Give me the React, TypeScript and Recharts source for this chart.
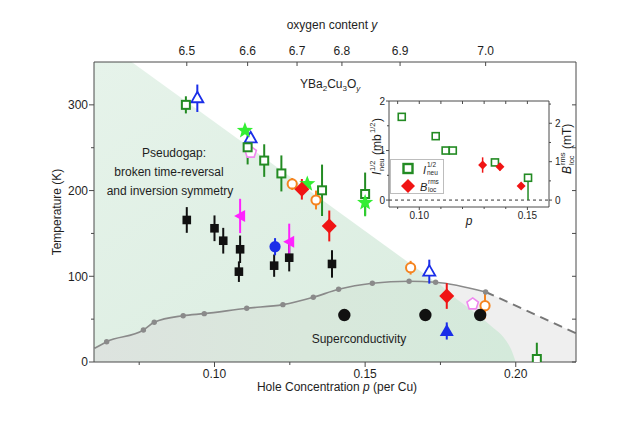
import React from "react";
import {
  Area,
  ComposedChart,
  ErrorBar,
  Line,
  ReferenceArea,
  ReferenceLine,
  Scatter,
  XAxis,
  YAxis,
} from "recharts";

const FONT = "'Liberation Sans', Arial, Helvetica, sans-serif";
const INK = "#1e1e1e";
const FRAME = "#4a4a4a";

// main panel axes
const pTicks = [0.075, 0.1, 0.125, 0.15, 0.175, 0.2];
const pLabels = ["", "0.10", "", "0.15", "", "0.20"];
const tTicks = [0, 50, 100, 150, 200, 250, 300];
const tLabels = ["0", "", "100", "", "200", "", "300"];
const oxyP = [0.0908, 0.111, 0.1274, 0.1423, 0.1616, 0.19];
const oxyLabels = ["6.5", "6.6", "6.7", "6.8", "6.9", "7.0"];

// Tc dome: solid part with dots, then dashed continuation
const tcP = [0.0602, 0.0642, 0.0764, 0.08, 0.0896, 0.0966, 0.1107, 0.1227, 0.1328, 0.1412, 0.1524, 0.1646, 0.1734, 0.19];
const tcT = [16, 23.7, 37.3, 46.3, 54, 56.4, 62.7, 66.9, 75.5, 84.8, 91.8, 94.2, 93, 81.7];
const tcDashP = [0.19, 0.22];
const tcDashT = [81.7, 33.5];

// shaded regions: pseudogap wedge and right edge of the superconducting dome fill
const pgEdgeP = [0.06, 0.0725, 0.21];
const pgEdgeT = [350, 350, 0];
const scEdgeP = [0.178, 0.1825, 0.1873, 0.1925, 0.1958, 0.1988, 0.2];
const scEdgeT = [80, 68, 55, 40, 29.5, 12, 0];

// data points (p, T, error)
const greenSqP = [0.0905, 0.111, 0.1165, 0.1222, 0.1357, 0.15, 0.207];
const greenSqT = [300, 250.5, 235, 220, 200.3, 196, 3.5];
const greenSqE: (number | number[])[] = [10, 20, 19, 21, 30, 25, [3.5, 19]];

const starP = [0.1101, 0.1308, 0.15];
const starT = [270, 207.7, 186];
const starE = [0, 0, 16];

const blueOpenP = [0.0943, 0.112, 0.1713];
const blueOpenT = [307.7, 261, 105.4];
const blueOpenE = [16, 0, 14];

const pentP = [0.112, 0.1857];
const pentT = [244.7, 67.7];

const orangeP = [0.1258, 0.1337, 0.1651, 0.1898];
const orangeT = [207.7, 189, 110, 65.7];
const orangeE = [7, 11, 8, 15];

const redP = [0.129, 0.1381, 0.1771];
const redT = [201.5, 158.7, 77];
const redE = [12, 18, 15];

const blackSqP = [0.0908, 0.1, 0.1029, 0.1085, 0.1081, 0.1198, 0.1248, 0.139];
const blackSqT = [165.7, 156, 141.5, 131.5, 105.4, 112.4, 121.7, 114.4];
const blackSqE = [15, 15, 15, 16, 12, 13, 16, 16];

const magP = [0.1085, 0.1248];
const magT = [170.4, 140.4];
const magE = [20, 21];

const blueDotP = [0.1201];
const blueDotT = [134.5];
const blueDotE = [10];

const blackDotP = [0.1431, 0.17, 0.1882];
const blackDotT = [54.8, 54.8, 54.8];

const blueFillP = [0.1771];
const blueFillT = [36.2];
const blueFillE = [10];

// inset
const inPTicks = [0.09, 0.1, 0.11, 0.12, 0.13, 0.14, 0.15];
const inPLabels = ["", "0.10", "", "", "", "", "0.15"];
const inLTicks = [0, 0.5, 1, 1.5, 2];
const inLLabels = ["0", "", "1", "", "2"];
const inRTicks = [0, 0.5, 1, 1.5, 2, 2.5];
const inRLabels = ["0", "", "1", "", "2", ""];
const neuP = [0.0919, 0.1076, 0.1122, 0.1155, 0.135, 0.1503];
const neuV = [1.68, 1.29, 1.0, 1.0, 0.76, 0.45];
const neuE: (number | number[])[] = [0, 0, 0, 0, 0, [0.45, 0]];
const bLocP = [0.1293, 0.1373, 0.1471];
const bLocV = [0.913, 0.868, 0.365];
const bLocE = [0.2, 0.1, 0.06];

type Row = { p: number; t: number; e: number | number[] };
const rows = (p: number[], t: number[], e?: (number | number[])[]): Row[] =>
  p.map((x, i) => ({ p: x, t: t[i], e: e ? e[i] : 0 }));

const pgRows = rows(pgEdgeP, pgEdgeT);
const domeRows = rows([...tcP.slice(0, 13), ...scEdgeP], [...tcT.slice(0, 13), ...scEdgeT]);
const grayRows = rows([...tcP.slice(11), ...tcDashP.slice(1)], [...tcT.slice(11), ...tcDashT.slice(1)]);

const labelOf = (ticks: number[], labels: string[]) => (v: number) => {
  let best = 0;
  ticks.forEach((tk, i) => {
    if (Math.abs(tk - v) < Math.abs(ticks[best] - v)) best = i;
  });
  return labels[best];
};

type Side = "left" | "right" | "top" | "bottom";
// dir 1 = outward, -1 = inward
function axisTick(side: Side, dir: number, major: number, minor: number, gap: number, size: number, label?: (v: number) => string) {
  return (props: any) => {
    const { x, y, payload } = props;
    const txt = label ? label(payload.value) : "";
    const len = txt ? major : minor;
    const style = { fill: INK, stroke: "none", fontSize: size, fontFamily: FONT };
    if (side === "left")
      return (
        <g>
          <line x1={x} y1={y} x2={x - dir * len} y2={y} stroke={FRAME} />
          {txt && <text x={x - gap} y={y} dy="0.36em" textAnchor="end" style={style}>{txt}</text>}
        </g>
      );
    if (side === "right")
      return (
        <g>
          <line x1={x} y1={y} x2={x + dir * len} y2={y} stroke={FRAME} />
          {txt && <text x={x + gap} y={y} dy="0.36em" textAnchor="start" style={style}>{txt}</text>}
        </g>
      );
    if (side === "top")
      return (
        <g>
          <line x1={x} y1={y} x2={x} y2={y - dir * len} stroke={FRAME} />
          {txt && <text x={x} y={y - gap} textAnchor="middle" style={style}>{txt}</text>}
        </g>
      );
    return (
      <g>
        <line x1={x} y1={y} x2={x} y2={y + dir * len} stroke={FRAME} />
        {txt && <text x={x} y={y + gap} textAnchor="middle" style={style}>{txt}</text>}
      </g>
    );
  };
}

// marker shapes
const starPts = (cx: number, cy: number, R: number, r: number) => {
  const pts: string[] = [];
  for (let i = 0; i < 10; i++) {
    const a = -Math.PI / 2 + (i * Math.PI) / 5;
    const rad = i % 2 === 0 ? R : r;
    pts.push(`${cx + rad * Math.cos(a)},${cy + rad * Math.sin(a)}`);
  }
  return pts.join(" ");
};
const pentPts = (cx: number, cy: number, R: number) => {
  const pts: string[] = [];
  for (let i = 0; i < 5; i++) {
    const a = -Math.PI / 2 + (i * 2 * Math.PI) / 5;
    pts.push(`${cx + R * Math.cos(a)},${cy + R * Math.sin(a)}`);
  }
  return pts.join(" ");
};

const GREEN = "#238b23";
const STAR = "#33ee33";
const BLUE = "#1a2ee8";
const RED = "#f01414";
const ORANGE = "#f5841f";
const MAGENTA = "#ff22ff";
const PINK = "#ef88ef";
const BLACK = "#111";
const GRAY = "#8a8a8a";

const openSquare = (color: string, s: number, w: number) => (p: any) => (
  <rect x={p.cx - s / 2} y={p.cy - s / 2} width={s} height={s} fill="#fff" stroke={color} strokeWidth={w} />
);
const diamond = (color: string, h: number) => (p: any) => (
  <polygon points={`${p.cx},${p.cy - h} ${p.cx + h},${p.cy} ${p.cx},${p.cy + h} ${p.cx - h},${p.cy}`} fill={color} />
);
const starShape = (p: any) => <polygon points={starPts(p.cx, p.cy, 8.5, 3.6)} fill={STAR} />;
const blueOpenTri = (p: any) => (
  <polygon points={`${p.cx},${p.cy - 6.5} ${p.cx + 6},${p.cy + 4} ${p.cx - 6},${p.cy + 4}`} fill="#fff" stroke={BLUE} strokeWidth={1.8} />
);
const pentShape = (p: any) => <polygon points={pentPts(p.cx, p.cy, 6)} fill="#fff" stroke={PINK} strokeWidth={1.6} />;
const orangeCircle = (p: any) => <circle cx={p.cx} cy={p.cy} r={4.6} fill="#fff" stroke={ORANGE} strokeWidth={2} />;
const blackSquare = (p: any) => <rect x={p.cx - 4.3} y={p.cy - 4.3} width={8.6} height={8.6} fill={BLACK} />;
const magTri = (p: any) => (
  <polygon points={`${p.cx - 6},${p.cy} ${p.cx + 5},${p.cy - 6} ${p.cx + 5},${p.cy + 6}`} fill={MAGENTA} />
);
const blueDot = (p: any) => <circle cx={p.cx} cy={p.cy} r={5.6} fill={BLUE} />;
const blackDot = (p: any) => <circle cx={p.cx} cy={p.cy} r={6.2} fill={BLACK} />;
const blueFillTri = (p: any) => (
  <polygon points={`${p.cx},${p.cy - 7} ${p.cx + 7},${p.cy + 5} ${p.cx - 7},${p.cy + 5}`} fill={BLUE} />
);
const tcDot = (p: any) =>
  p.index === 0 ? <g key={`d${p.index}`} /> : <circle key={`d${p.index}`} cx={p.cx} cy={p.cy} r={2.7} fill={GRAY} />;

function MainChart() {
  const series = (data: Row[], shape: any, color: string, key: string) => (
    <Scatter key={key} xAxisId="b" yAxisId="l" data={data} dataKey="t" shape={shape} isAnimationActive={false}>
      <ErrorBar dataKey="e" direction="y" width={0} stroke={color} strokeWidth={2} />
    </Scatter>
  );
  return (
    <ComposedChart width={638} height={424} margin={{ top: 32, right: 61, bottom: 22, left: 54 }}>
      <defs>
        <linearGradient id="pgFill" x1="0" y1="0" x2="1" y2="1">
          <stop offset="0" stopColor="#e6f3ea" />
          <stop offset="1" stopColor="#d9ecdf" />
        </linearGradient>
        <linearGradient id="scFill" x1="0" y1="0" x2="1" y2="0">
          <stop offset="0" stopColor="#dde3df" />
          <stop offset="0.5" stopColor="#d9e8dc" />
          <stop offset="1" stopColor="#d4eadb" />
        </linearGradient>
      </defs>
      <XAxis
        xAxisId="b"
        dataKey="p"
        type="number"
        domain={[0.06, 0.22]}
        allowDataOverflow
        ticks={pTicks}
        interval={0}
        tickSize={0}
        tickMargin={0}
        tickLine={false}
        tick={axisTick("bottom", 1, 5, 3, 16, 12, labelOf(pTicks, pLabels))}
        axisLine={{ stroke: FRAME }}
        height={40}
      />
      <XAxis
        xAxisId="t"
        orientation="top"
        dataKey="p"
        type="number"
        domain={[0.06, 0.22]}
        allowDataOverflow
        ticks={oxyP}
        interval={0}
        tickSize={0}
        tickMargin={0}
        tickLine={false}
        tick={axisTick("top", -1, 4, 4, 7, 12, labelOf(oxyP, oxyLabels))}
        axisLine={{ stroke: FRAME }}
        height={30}
      />
      <YAxis
        yAxisId="l"
        dataKey="t"
        type="number"
        domain={[0, 350]}
        allowDataOverflow
        ticks={tTicks}
        interval={0}
        tickSize={0}
        tickMargin={0}
        tickLine={false}
        tick={axisTick("left", 1, 5, 3, 6, 12, labelOf(tTicks, tLabels))}
        axisLine={{ stroke: FRAME }}
        width={40}
      />
      <YAxis
        yAxisId="r"
        orientation="right"
        type="number"
        domain={[0, 350]}
        allowDataOverflow
        ticks={tTicks}
        interval={0}
        tickSize={0}
        tickMargin={0}
        tickLine={false}
        tick={axisTick("right", -1, 4, 4, 0, 12)}
        axisLine={{ stroke: FRAME }}
        width={1}
      />
      <Area xAxisId="b" yAxisId="l" data={pgRows} dataKey="t" type="linear" baseValue={0} fill="url(#pgFill)" fillOpacity={1} stroke="none" isAnimationActive={false} />
      <Area xAxisId="b" yAxisId="l" data={grayRows} dataKey="t" type="linear" baseValue={0} fill="#efefef" fillOpacity={1} stroke="none" isAnimationActive={false} />
      <Area xAxisId="b" yAxisId="l" data={domeRows} dataKey="t" type="monotone" baseValue={0} fill="url(#scFill)" fillOpacity={1} stroke="none" isAnimationActive={false} />
      <Line xAxisId="b" yAxisId="l" data={rows(tcDashP, tcDashT)} dataKey="t" type="linear" stroke="#777" strokeWidth={2} strokeDasharray="9 6" dot={false} isAnimationActive={false} />
      <Line xAxisId="b" yAxisId="l" data={rows(tcP, tcT)} dataKey="t" type="monotone" stroke={GRAY} strokeWidth={1.6} dot={tcDot} isAnimationActive={false} />
      {series(rows(pentP, pentT), pentShape, PINK, "pent")}
      {series(rows(blueOpenP, blueOpenT, blueOpenE), blueOpenTri, BLUE, "blueOpen")}
      {series(rows(greenSqP, greenSqT, greenSqE), openSquare(GREEN, 8, 2), GREEN, "greenSq")}
      {series(rows(starP, starT, starE), starShape, "#2fcf2f", "star")}
      {series(rows(orangeP, orangeT, orangeE), orangeCircle, ORANGE, "orange")}
      {series(rows(redP, redT, redE), diamond(RED, 7.5), RED, "red")}
      {series(rows(blackSqP, blackSqT, blackSqE), blackSquare, BLACK, "blackSq")}
      {series(rows(magP, magT, magE), magTri, MAGENTA, "mag")}
      {series(rows(blueDotP, blueDotT, blueDotE), blueDot, BLUE, "blueDot")}
      {series(rows(blackDotP, blackDotT), blackDot, BLACK, "blackDot")}
      {series(rows(blueFillP, blueFillT, blueFillE), blueFillTri, BLUE, "blueFill")}
    </ComposedChart>
  );
}

function InsetChart() {
  return (
    <ComposedChart width={215} height={140} margin={{ top: 5, right: 0, bottom: 0, left: 0 }}>
      <XAxis
        xAxisId="b"
        dataKey="p"
        type="number"
        domain={[0.086, 0.16]}
        allowDataOverflow
        ticks={inPTicks}
        interval={0}
        tickSize={0}
        tickMargin={0}
        tickLine={false}
        tick={axisTick("bottom", 1, 3, 2, 12, 10, labelOf(inPTicks, inPLabels))}
        axisLine={{ stroke: FRAME }}
        height={28}
      />
      <XAxis
        xAxisId="t"
        orientation="top"
        dataKey="p"
        type="number"
        domain={[0.086, 0.16]}
        allowDataOverflow
        ticks={inPTicks}
        interval={0}
        tickSize={0}
        tickMargin={0}
        tickLine={false}
        tick={axisTick("top", -1, 3, 3, 0, 10)}
        axisLine={{ stroke: FRAME }}
        height={1}
      />
      <YAxis
        yAxisId="l"
        dataKey="t"
        type="number"
        domain={[-0.14, 2]}
        allowDataOverflow
        ticks={inLTicks}
        interval={0}
        tickSize={0}
        tickMargin={0}
        tickLine={false}
        tick={axisTick("left", 1, 3, 2, 4, 10, labelOf(inLTicks, inLLabels))}
        axisLine={{ stroke: FRAME }}
        width={29}
      />
      <YAxis
        yAxisId="r"
        orientation="right"
        dataKey="t"
        type="number"
        domain={[-0.18, 2.58]}
        allowDataOverflow
        ticks={inRTicks}
        interval={0}
        tickSize={0}
        tickMargin={0}
        tickLine={false}
        tick={axisTick("right", 1, 3, 2, 6, 10, labelOf(inRTicks, inRLabels))}
        axisLine={{ stroke: FRAME }}
        width={26}
      />
      <ReferenceArea xAxisId="b" yAxisId="l" fill="#fff" fillOpacity={1} stroke="none" />
      <ReferenceLine xAxisId="b" yAxisId="l" y={0} stroke="#333" strokeDasharray="3 3" />
      <Scatter xAxisId="b" yAxisId="l" data={rows(neuP, neuV, neuE)} dataKey="t" shape={openSquare(GREEN, 7, 1.6)} isAnimationActive={false}>
        <ErrorBar dataKey="e" direction="y" width={0} stroke={GREEN} strokeWidth={1.5} />
      </Scatter>
      <Scatter xAxisId="b" yAxisId="r" data={rows(bLocP, bLocV, bLocE)} dataKey="t" shape={diamond(RED, 4.5)} isAnimationActive={false}>
        <ErrorBar dataKey="e" direction="y" width={0} stroke={RED} strokeWidth={1.5} />
      </Scatter>
    </ComposedChart>
  );
}

function Overlay() {
  return (
    <svg width={638} height={424} style={{ position: "absolute", left: 0, top: 0, pointerEvents: "none" }} fontFamily={FONT} fill={INK}>
      <text x={332} y={29} fontSize={12} textAnchor="middle">
        oxygen content <tspan fontStyle="italic">y</tspan>
      </text>
      <text transform="translate(61,212) rotate(-90)" fontSize={12} textAnchor="middle">Temperature (K)</text>
      <text x={337} y={391} fontSize={12} textAnchor="middle">
        Hole Concentration <tspan fontStyle="italic">p</tspan> (per Cu)
      </text>
      <text x={300} y={88} fontSize={12}>
        YBa<tspan fontSize={8} dy={3}>2</tspan>
        <tspan dy={-3}>Cu</tspan>
        <tspan fontSize={8} dy={3}>3</tspan>
        <tspan dy={-3}>O</tspan>
        <tspan fontSize={8} dy={3} fontStyle="italic">y</tspan>
      </text>
      <text x={174} y={157} fontSize={12} textAnchor="middle">Pseudogap:</text>
      <text x={169} y={176} fontSize={12} textAnchor="middle">broken time-reversal</text>
      <text x={170} y={195} fontSize={12} textAnchor="middle">and inversion symmetry</text>
      <text x={359} y={343} fontSize={12} textAnchor="middle">Superconductivity</text>

      {/* inset axis titles */}
      <g transform="translate(381,146) rotate(-90)" fontSize={12}>
        <text x={-29} y={0} fontStyle="italic">I</text>
        <text x={-25} y={-6} fontSize={7.5}>1/2</text>
        <text x={-25} y={3} fontSize={7.5}>neu</text>
        <text x={-9} y={0}>(mb</text>
        <text x={13} y={-6} fontSize={7.5}>1/2</text>
        <text x={24} y={0}>)</text>
      </g>
      <g transform="translate(571,147) rotate(-90)" fontSize={12}>
        <text x={-27} y={0} fontStyle="italic">B</text>
        <text x={-18} y={-6} fontSize={7.5}>rms</text>
        <text x={-18} y={3} fontSize={7.5}>loc</text>
        <text x={-2} y={0}>(mT)</text>
      </g>
      <text x={469} y={225} fontSize={12} fontStyle="italic" textAnchor="middle">p</text>

      {/* inset legend */}
      <rect x={390.5} y={159.5} width={53} height={34} fill="#fff" stroke="#bdbdbd" />
      <rect x={403.5} y={164} width={9} height={9} fill="#fff" stroke={GREEN} strokeWidth={2.4} />
      <polygon points="408,179 415,186 408,193 401,186" fill={RED} />
      <text x={423} y={174} fontSize={11} fontStyle="italic">I</text>
      <text x={427} y={167} fontSize={6.5}>1/2</text>
      <text x={427} y={175} fontSize={6.5}>neu</text>
      <text x={420} y={191} fontSize={11} fontStyle="italic">B</text>
      <text x={428} y={184} fontSize={6.5}>rms</text>
      <text x={428} y={192} fontSize={6.5}>loc</text>
    </svg>
  );
}

export default function App() {
  return (
    <div style={{ position: "absolute", left: 0, top: 0, width: 638, height: 424, background: "#fff", fontFamily: FONT }}>
      <MainChart />
      <div style={{ position: "absolute", left: 360, top: 95 }}>
        <InsetChart />
      </div>
      <Overlay />
    </div>
  );
}
